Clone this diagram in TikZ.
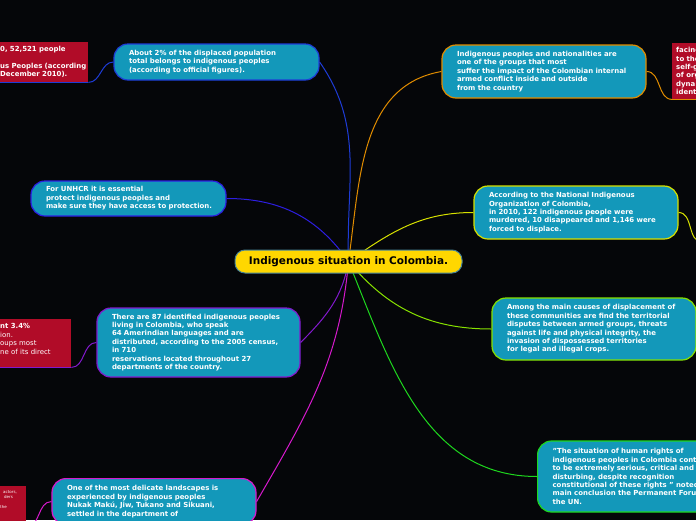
\documentclass[tikz,border=0pt]{standalone}
\usepackage{fontspec}
\setmainfont{DejaVu Sans}
\definecolor{canvas}{RGB}{5,6,9}
\definecolor{topicblue}{RGB}{19,152,186}
\definecolor{notered}{RGB}{177,12,40}
\definecolor{rootyellow}{RGB}{255,215,0}
\definecolor{rootedge}{RGB}{70,130,150}
\definecolor{lineblue}{RGB}{30,60,215}
\definecolor{lineindigo}{RGB}{45,30,225}
\definecolor{linepurple}{RGB}{130,25,205}
\definecolor{linemagenta}{RGB}{215,25,205}
\definecolor{lineorange}{RGB}{225,140,0}
\definecolor{lineyellow}{RGB}{215,225,0}
\definecolor{linelime}{RGB}{135,225,0}
\definecolor{linegreen}{RGB}{30,215,30}
\pgfdeclarelayer{canvas layer}
\pgfdeclarelayer{link layer}
\pgfsetlayers{canvas layer,link layer,main}
\begin{document}
\begin{tikzpicture}[x=1pt,y=-1pt]
        \useasboundingbox (0,0) rectangle (696,520);
        \clip (0,0) rectangle (696,520);
        \begin{pgfonlayer}{canvas layer}
          \fill[canvas] (0,0) rectangle (696,520);
        \end{pgfonlayer}
        \tikzstyle{every node}=[font=\fontsize{6.95}{8.4}\selectfont\bfseries, text=white]
        \tikzstyle{topic}=[rounded corners=14pt, fill=topicblue, line width=1.2pt, inner xsep=15pt, inner ysep=2pt, align=left]
        \tikzstyle{note}=[fill=notered, inner xsep=0pt, inner ysep=0pt, align=left, anchor=north west]
        \tikzstyle{link}=[line width=1pt]
        \tikzstyle{underline}=[line width=1.6pt]
        % central topic
        \node[rounded corners=10pt, fill=rootyellow, draw=rootedge, line width=1pt, text=black, font=\fontsize{10.5}{12}\selectfont\bfseries, minimum width=227pt, minimum height=23pt] (root) at (348.5,261.5) {Indigenous situation in Colombia.};
        % left branches
        \node[topic, draw=lineblue, text width=175pt, minimum height=36pt] (share) at (216.5,62) {About 2\% of the displaced population\\total belongs to indigenous peoples\\(according to official figures).};
        \node[topic, draw=lineindigo, text width=165pt, minimum height=35pt] (unhcr) at (128.5,198.5) {For UNHCR it is essential\\protect indigenous peoples and\\\mbox{make sure they have access to protection.}};
        \node[topic, draw=linepurple, text width=173pt, minimum height=69pt] (peoples) at (198.5,342.5) {There are 87 identified indigenous peoples\\living in Colombia, who speak\\64 Amerindian languages and are\\distributed, according to the 2005 census,\\in 710\\reservations located throughout 27\\departments of the country.};
        \node[topic, draw=linemagenta, text width=174pt, inner ysep=7pt, anchor=north] (landscape) at (154,478) {One of the most delicate landscapes is\\experienced by indigenous peoples\\Nukak Mak\'u, Jiw, Tukano and Sikuani,\\settled in the department of};
        % right branches
        \node[topic, draw=lineorange, text width=174pt, minimum height=53pt] (conflict) at (544,71.5) {Indigenous peoples and nationalities are\\one of the groups that most\\suffer the impact of the Colombian internal\\armed conflict inside and outside\\from the country};
        \node[topic, draw=lineyellow, text width=174pt, minimum height=53pt] (onic) at (576,212.5) {According to the National Indigenous\\Organization of Colombia,\\in 2010, 122 indigenous people were\\murdered, 10 disappeared and 1,146 were\\forced to displace.};
        \node[topic, draw=linelime, text width=174pt, minimum height=62pt] (causes) at (594,329) {Among the main causes of displacement of\\these communities are find the territorial\\disputes between armed groups, threats\\against life and physical integrity, the\\invasion of dispossessed territories\\for legal and illegal crops.};
        \node[topic, draw=linegreen, text width=174pt, minimum height=71pt, anchor=west] (forum) at (537,476.5) {"The situation of human rights of\\indigenous peoples in Colombia cont\\to be extremely serious, critical and\\disturbing, despite recognition\\constitutional of these rights " noted\\main conclusion the Permanent Foru\\the UN.};
        % notes
        \node[note, text width=88pt, minimum height=40pt] (tally) at (0,42) {0, 52,521 people\\\mbox{}\\us Peoples (according\\December 2010).};
        \node[note, text width=60pt, inner xsep=4pt, minimum height=56pt] (facing) at (672,43) {facing\\to the\\self-g\\of org\\dyna\\ident};
        \node[note, text width=71pt, minimum height=48pt] (census) at (0,319) {nt 3.4\%\\\mdseries ion.\\oups most\\ne of its direct\\\mbox{}};
        \node[note, text width=26pt, inner ysep=4pt, font=\fontsize{4}{5}\selectfont\mdseries] (actors) at (0,486) {\hspace*{3pt}actors,\\\hspace*{4pt}ders\\\mbox{}\\the\\\mbox{}\\\mbox{}\\\mbox{}};
        \coordinate (offnote) at (702,242);
        \draw[underline, lineblue] (tally.south west) -- (tally.south east);
        \draw[underline, lineorange] (facing.south west) -- (facing.south east);
        \draw[underline, linepurple] (census.south west) -- (census.south east);
        \begin{pgfonlayer}{link layer}
          \clip (0,0) rectangle (696,520);
          \draw[link, lineblue] (root.center) to[out=92, in=-55] (share.east);
          \draw[link, lineindigo] (root.center) to[out=125, in=0] (unhcr.east);
          \draw[link, linepurple] (root.center) to[out=-100, in=45] (peoples.east);
          \draw[link, linemagenta] (root.center) to[out=-95, in=60] (landscape.east);
          \draw[link, lineorange] (root.center) to[out=82, in=190] (conflict.west);
          \draw[link, lineyellow] (root.center) to[out=35, in=180] (onic.west);
          \draw[link, linelime] (root.center) to[out=-50, in=180] (causes.west);
          \draw[link, linegreen] (root.center) to[out=-68, in=180] (forum.west);
          \draw[link, lineblue] (share.west) to[out=180, in=0] (tally.south east);
          \draw[link, lineorange] (conflict.east) to[out=0, in=180] (facing.south west);
          \draw[link, linepurple] (peoples.west) to[out=180, in=0] (census.south east);
          \draw[link, linemagenta] (landscape.west) to[out=180, in=0] (actors.south east);
          \draw[link, lineyellow] (onic.east) to[out=0, in=180] (offnote);
        \end{pgfonlayer}
    \end{tikzpicture}
\end{document}
